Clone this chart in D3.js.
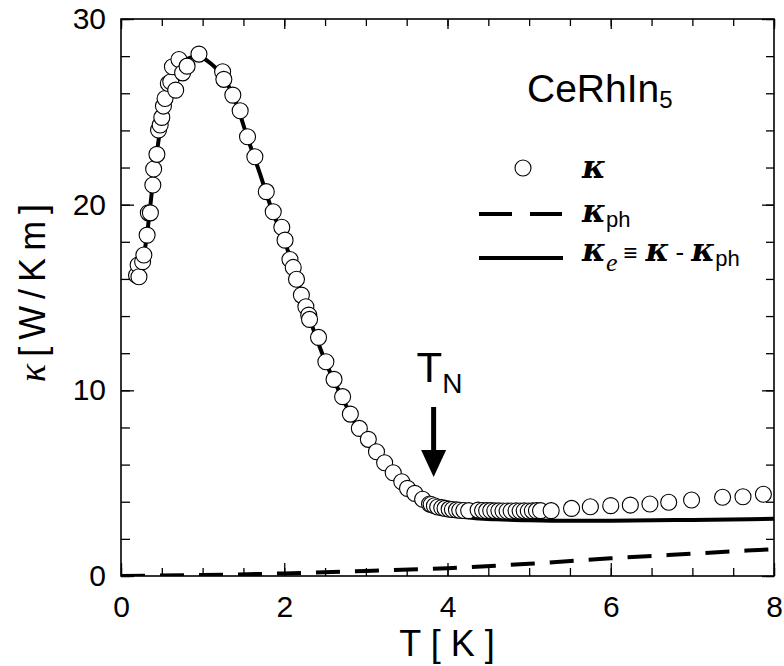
<!DOCTYPE html>
<html>
<head>
<meta charset="utf-8">
<script src="https://cdn.jsdelivr.net/npm/d3@7"></script>
<style>
  body { margin: 0; background: #fff; }
  text { font-family: "Liberation Sans", Arial, sans-serif; fill: #000; }
  .kap { font-family: "DejaVu Serif", "Liberation Serif", serif; font-style: italic; font-weight: bold; }
</style>
</head>
<body>
<svg width="784" height="666"></svg>
<script>
// measured kappa (circles)
const kappaT = [0.19, 0.21, 0.22, 0.265, 0.28, 0.32, 0.335, 0.36, 0.39, 0.40, 0.44, 0.46, 0.48, 0.50, 0.52, 0.54,
  0.58, 0.61, 0.63, 0.67, 0.71, 0.755, 0.81, 0.955, 1.245, 1.26, 1.37, 1.46, 1.55, 1.64, 1.78, 1.865, 1.97, 2.01,
  2.07, 2.11, 2.15, 2.21, 2.265, 2.30, 2.31, 2.42, 2.51, 2.61, 2.715, 2.81, 2.92, 3.03, 3.13, 3.23, 3.335, 3.44,
  3.51, 3.60, 3.695, 3.78,
  3.80, 3.84, 3.88, 3.93, 3.97, 4.02, 4.06, 4.11, 4.15, 4.20, 4.26,
  4.375, 4.43, 4.48, 4.53, 4.58, 4.63, 4.68, 4.73, 4.78, 4.84, 4.89, 4.94, 4.99, 5.04, 5.09, 5.14,
  5.27, 5.52, 5.75, 6.0, 6.24, 6.48, 6.71, 6.99, 7.37, 7.62, 7.87];
const kappaV = [16.2, 16.75, 16.12, 16.93, 17.29, 18.36, 19.56, 19.56, 21.06, 21.92, 22.71, 24.02, 24.29, 24.70, 25.31, 25.72,
  26.53, 26.62, 27.43, 26.17, 27.82, 27.10, 27.46, 28.11, 27.16, 26.75, 25.90, 25.06, 23.66, 22.58, 20.70, 19.62, 18.78, 18.09,
  17.05, 16.62, 15.98, 15.13, 14.50, 14.05, 13.82, 12.85, 11.54, 10.59, 9.66, 8.72, 7.95, 7.36, 6.69, 6.10, 5.56, 5.08,
  4.72, 4.45, 4.13, 3.88,
  3.85, 3.78, 3.72, 3.68, 3.64, 3.60, 3.58, 3.56, 3.54, 3.53, 3.52,
  3.55, 3.53, 3.52, 3.52, 3.51, 3.51, 3.50, 3.50, 3.50, 3.51, 3.50, 3.51, 3.50, 3.51, 3.52, 3.52,
  3.52, 3.64, 3.73, 3.79, 3.82, 3.88, 3.97, 4.09, 4.24, 4.27, 4.40];

// kappa_e (solid line)
const keT = [0.19, 0.3, 0.4, 0.5, 0.6, 0.75, 0.95, 1.1, 1.25, 1.4, 1.55, 1.7, 1.85, 2.0, 2.15, 2.3, 2.5, 2.7,
  2.9, 3.1, 3.3, 3.5, 3.7, 3.9, 4.2, 4.6, 5.0, 5.5, 6.0, 7.0, 8.0];
const keV = [16.0, 17.8, 21.5, 24.6, 26.5, 27.7, 28.0, 27.6, 26.9, 25.6, 23.6, 21.7, 19.7, 18.1, 16.0, 14.0, 11.6, 9.7,
  8.0, 6.8, 5.6, 4.6, 3.85, 3.42, 3.18, 3.05, 3.0, 2.97, 2.98, 3.02, 3.08];

// kappa_ph (dashed line)
const phT = [0, 1, 2, 3, 4, 5, 6, 7, 8];
const phV = [0.0, 0.05, 0.14, 0.27, 0.42, 0.66, 0.95, 1.2, 1.45];

const xTicks = [0, 2, 4, 6, 8];
const yTicks = [0, 10, 20, 30];
const TN = 3.83;

const svg = d3.select("svg");
const x = d3.scaleLinear().domain([0, 8]).range([121, 774]);
const y = d3.scaleLinear().domain([0, 30]).range([576, 19]);

svg.append("clipPath").attr("id", "clip")
  .append("rect").attr("x", 121).attr("y", 19).attr("width", 653).attr("height", 557);

// ticks on all sides, pointing inward
const xMinor = d3.range(0, 8.01, 0.5);
const yMinor = d3.range(0, 30.01, 2);
function addAxis(axis, tr) {
  const g = svg.append("g").attr("transform", tr).call(axis);
  g.select(".domain").remove();
  g.selectAll("line").attr("stroke", "#000").attr("stroke-width", 1.3);
  g.attr("font-family", "Liberation Sans, Arial, sans-serif").attr("font-size", 30);
  return g;
}
addAxis(d3.axisBottom(x).tickValues(xMinor).tickSize(-8).tickFormat(""), "translate(0,576)");
addAxis(d3.axisBottom(x).tickValues(xTicks).tickSize(-13).tickPadding(20), "translate(0,576)");
addAxis(d3.axisTop(x).tickValues(xMinor).tickSize(-7).tickFormat(""), "translate(0,19)");
addAxis(d3.axisTop(x).tickValues(xTicks).tickSize(-10).tickFormat(""), "translate(0,19)");
addAxis(d3.axisLeft(y).tickValues(yMinor).tickSize(-9).tickFormat(""), "translate(121,0)");
addAxis(d3.axisLeft(y).tickValues(yTicks).tickSize(-13).tickPadding(15), "translate(121,0)");
addAxis(d3.axisRight(y).tickValues(yMinor).tickSize(-8).tickFormat(""), "translate(774,0)");
addAxis(d3.axisRight(y).tickValues(yTicks).tickSize(-12).tickFormat(""), "translate(774,0)");

svg.append("rect").attr("x", 121).attr("y", 19).attr("width", 653).attr("height", 557)
  .attr("fill", "none").attr("stroke", "#000").attr("stroke-width", 1.6);

const plot = svg.append("g").attr("clip-path", "url(#clip)");

const line = d3.line().x(d => x(d[0])).y(d => y(d[1])).curve(d3.curveMonotoneX);

plot.append("path")
  .datum(phT.map((t, i) => [t, phV[i]]))
  .attr("fill", "none").attr("stroke", "#000").attr("stroke-width", 4)
  .attr("stroke-dasharray", "24,15")
  .attr("d", line);

plot.append("path")
  .datum(keT.map((t, i) => [t, keV[i]]))
  .attr("fill", "none").attr("stroke", "#000").attr("stroke-width", 4)
  .attr("d", line);

plot.selectAll("circle.k")
  .data(kappaT.map((t, i) => [t, kappaV[i]]))
  .join("circle")
  .attr("class", "k")
  .attr("cx", d => x(d[0])).attr("cy", d => y(d[1])).attr("r", 8)
  .attr("fill", "#fff").attr("stroke", "#000").attr("stroke-width", 1.1);

// axis titles
svg.append("text")
  .attr("x", 447).attr("y", 656).attr("text-anchor", "middle")
  .attr("font-size", 36)
  .text("T [ K ]");

const yl = svg.append("text")
  .attr("transform", "translate(45,293) rotate(-90)")
  .attr("text-anchor", "middle")
  .attr("font-size", 36).style("word-spacing", "-3px");
yl.append("tspan")
  .style("font-family", "Liberation Serif, serif").style("font-style", "italic")
  .attr("font-size", 38)
  .text("κ");
yl.append("tspan").text(" [ W / K m ]");

// compound label
const lab = svg.append("text").attr("x", 527).attr("y", 102).attr("font-size", 39);
lab.append("tspan").text("CeRhIn");
lab.append("tspan").attr("font-size", 24).attr("dy", 6).text("5");

// legend
svg.append("circle").attr("cx", 523).attr("cy", 168).attr("r", 8)
  .attr("fill", "#fff").attr("stroke", "#000").attr("stroke-width", 1.1);
svg.append("line").attr("x1", 479).attr("x2", 562).attr("y1", 214).attr("y2", 214)
  .attr("stroke", "#000").attr("stroke-width", 4).attr("stroke-dasharray", "33,18");
svg.append("line").attr("x1", 479).attr("x2", 563).attr("y1", 258).attr("y2", 258)
  .attr("stroke", "#000").attr("stroke-width", 4);

const l1 = svg.append("text").attr("x", 582).attr("y", 178).attr("font-size", 32);
l1.append("tspan").attr("class", "kap").text("κ");

const l2 = svg.append("text").attr("x", 582).attr("y", 222).attr("font-size", 32);
l2.append("tspan").attr("class", "kap").text("κ");
l2.append("tspan").attr("font-size", 22).attr("dy", 5).text("ph");

const l3 = svg.append("text").attr("x", 582).attr("y", 261).attr("font-size", 32);
l3.append("tspan").attr("class", "kap").text("κ");
l3.append("tspan").attr("font-size", 26).attr("dy", 10)
  .style("font-family", "Liberation Serif, serif").style("font-style", "italic").text("e");
l3.append("tspan").attr("font-size", 24).attr("dy", -10).attr("dx", 6).text("≡");
l3.append("tspan").attr("class", "kap").attr("dx", 8).text("κ");
l3.append("tspan").attr("font-size", 26).attr("dx", 6).text("-");
l3.append("tspan").attr("class", "kap").attr("dx", 7).text("κ");
l3.append("tspan").attr("font-size", 22).attr("dy", 5).text("ph");

// T_N arrow
const ax = x(TN);
const tn = svg.append("text").attr("x", ax - 17).attr("y", 382).attr("font-size", 42);
tn.append("tspan").text("T");
tn.append("tspan").attr("font-size", 28).attr("dy", 11).text("N");
svg.append("line").attr("x1", ax).attr("x2", ax).attr("y1", 407).attr("y2", 455)
  .attr("stroke", "#000").attr("stroke-width", 5);
svg.append("path")
  .attr("d", `M${ax - 12.5},450 L${ax + 12.5},450 L${ax},477 Z`)
  .attr("fill", "#000");
</script>
</body>
</html>
